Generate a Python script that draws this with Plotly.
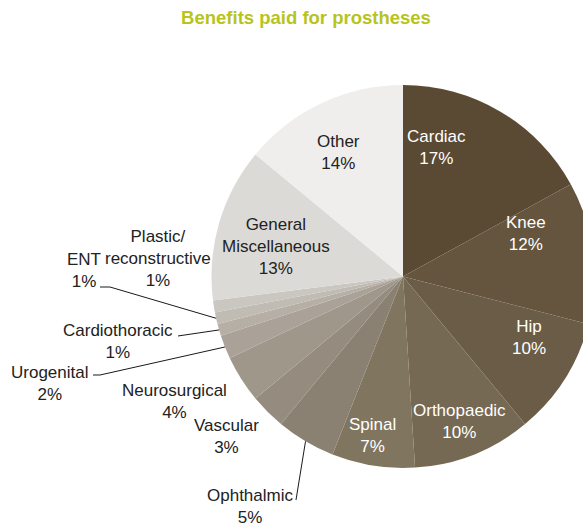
import math
import plotly.graph_objects as go

# Share of benefits paid, by prosthesis category (percent)
categories = [
    "Cardiac", "Knee", "Hip", "Orthopaedic", "Spinal", "Ophthalmic",
    "Vascular", "Neurosurgical", "Urogenital", "Cardiothoracic", "ENT",
    "Plastic/<br>reconstructive", "General<br>Miscellaneous", "Other",
]
shares = [17, 12, 10, 10, 7, 5, 3, 4, 2, 1, 1, 1, 13, 14]

slice_colors = [
    "#5b4a33", "#65553e", "#6b5c47", "#756953", "#80755f", "#8b8172",
    "#958c7f", "#a0978b", "#aaa298", "#b5afa6", "#c0bbb3", "#cac6c0",
    "#dcdad6", "#efeeec",
]

W, H = 600, 526          # figure size; the page shows 583 px of width
CX, CY, R = 403.0, 276.5, 191.5   # pie centre and radius in pixels

FONT = "Liberation Sans, Arial, sans-serif"
DARK_TEXT = "#222222"


def paper(x, y):
    return x / W, 1 - y / H


# label placement (pixel centre of each label block) and text colour
label_pos = {
    "Cardiac": (436, 147, "white"),
    "Knee": (526, 233, "white"),
    "Hip": (529, 337, "white"),
    "Orthopaedic": (459, 421, "white"),
    "Spinal": (372, 435, "white"),
    "Ophthalmic": (250, 506, DARK_TEXT),
    "Vascular": (226, 436, DARK_TEXT),
    "Neurosurgical": (174, 401, DARK_TEXT),
    "Urogenital": (50, 383, DARK_TEXT),
    "Cardiothoracic": (118, 341, DARK_TEXT),
    "ENT": (84, 270, DARK_TEXT),
    "Plastic/<br>reconstructive": (158, 258, DARK_TEXT),
    "General<br>Miscellaneous": (276, 247, DARK_TEXT),
    "Other": (339, 152, DARK_TEXT),
}

# outer ends of leader lines (inner end sits on the slice's mid angle)
leader_start = {
    "Ophthalmic": [(296, 500)],
    "Urogenital": [(93, 375), (100, 375)],
    "Cardiothoracic": [(178, 336)],
    "ENT": [(100, 287), (110, 287)],
}

x0, y0 = paper(CX - R, CY + R)
x1, y1 = paper(CX + R, CY - R)

fig = go.Figure(
    go.Pie(
        labels=[c.replace("<br>", " ") for c in categories],
        values=shares,
        sort=False,
        direction="clockwise",
        rotation=0,
        marker=dict(colors=slice_colors, line=dict(width=0)),
        textinfo="none",
        hoverinfo="label+percent",
        domain=dict(x=[x0, x1], y=[y0, y1]),
        showlegend=False,
    )
)

annotations = []
for cat, val in zip(categories, shares):
    lx, ly, col = label_pos[cat]
    px, py = paper(lx, ly)
    annotations.append(dict(
        x=px, y=py, xref="paper", yref="paper",
        text=f"{cat}<br>{val}%", showarrow=False,
        xanchor="center", yanchor="middle",
        font=dict(family=FONT, size=17, color=col),
    ))

# leader lines, ending on the pie edge at the middle of each slice
total = sum(shares)
shapes = []
cum = 0.0
for cat, val in zip(categories, shares):
    mid = (cum + val / 2) / total * 2 * math.pi
    cum += val
    if cat not in leader_start:
        continue
    ex = CX + R * math.sin(mid)
    ey = CY - R * math.cos(mid)
    pts = leader_start[cat] + [(ex, ey)]
    path = " ".join(
        ("M" if i == 0 else "L") + f"{paper(x, y)[0]:.5f},{paper(x, y)[1]:.5f}"
        for i, (x, y) in enumerate(pts)
    )
    shapes.append(dict(type="path", path=path, xref="paper", yref="paper",
                       line=dict(color="#1a1a1a", width=1)))

fig.update_layout(
    width=W, height=H,
    margin=dict(l=0, r=0, t=0, b=0),
    paper_bgcolor="white", plot_bgcolor="white",
    title=dict(
        text="<b>Benefits paid for prostheses</b>",
        x=306 / W, xanchor="center",
        y=1 - 18 / H, yanchor="middle", yref="container",
        font=dict(family=FONT, size=18.5, color="#b7c41c"),
    ),
    annotations=annotations,
    shapes=shapes,
)

fig.write_html(
    "out.html",
    post_script="document.documentElement.style.overflow='hidden';"
                "document.body.style.overflow='hidden';",
)
